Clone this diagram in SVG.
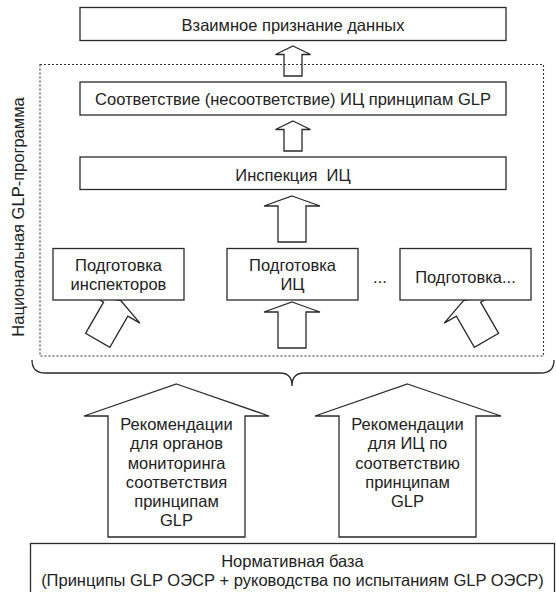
<svg xmlns="http://www.w3.org/2000/svg" width="556" height="592" viewBox="0 0 556 592">
<style>
.box{fill:#fff;stroke:#2a2a2a;stroke-width:1.3}
.arr{fill:#fff;stroke:#2a2a2a;stroke-width:1.3;stroke-linejoin:miter}
.t{font-family:"Liberation Sans",Arial,sans-serif;font-size:16.5px;fill:#222;text-anchor:middle}
.dot{fill:none;stroke:#333;stroke-width:1.1;stroke-dasharray:2 2}
.brace{fill:none;stroke:#2a2a2a;stroke-width:1.3}
</style>
<defs>
<path id="sa" d="M0,0 L17.5,8.5 L9,8.5 L9,30 L-9,30 L-9,8.5 L-17.5,8.5 Z"/>
<path id="ma" d="M0,0 L28,10 L14,10 L14,46 L-14,46 L-14,10 L-28,10 Z"/>
</defs>
<rect width="556" height="592" fill="#fff"/>

<g id="connectors">
<use href="#sa" class="arr" transform="translate(293,46)"/>
<use href="#sa" class="arr" transform="translate(293,121)"/>
<use href="#ma" class="arr" transform="translate(292,196)"/>
<use href="#ma" class="arr" transform="translate(292,302)"/>
<use href="#ma" class="arr" transform="translate(120.7,300.5) rotate(30)"/>
<use href="#ma" class="arr" transform="translate(463.5,300.5) rotate(-30)"/>
<path class="brace" d="M32,360 C32,368 36,373 45,373 L280,373 C288,373 292,378 292,386 C292,378 296,373 304,373 L541,373 C550,373 554,368 554,360"/>
</g>

<g id="program-frame">
<rect class="dot" x="40" y="64.5" width="503.5" height="291.5"/>
<text class="t" transform="translate(24,217) rotate(-90)">Национальная GLP-программа</text>
</g>

<g id="node-mutual">
<rect class="box" x="80" y="7.5" width="426" height="33"/>
<text class="t" x="293" y="30.5">Взаимное признание данных</text>
</g>

<g id="node-compliance">
<rect class="box" x="80" y="82" width="426" height="33"/>
<text class="t" x="293" y="104.5">Соответствие (несоответствие) ИЦ принципам GLP</text>
</g>

<g id="node-inspection">
<rect class="box" x="80" y="157" width="426" height="32.5"/>
<text class="t" x="293" y="181" xml:space="preserve">Инспекция  ИЦ</text>
</g>

<g id="node-train-inspectors">
<rect class="box" x="53" y="248.5" width="131" height="51.5"/>
<text class="t" x="118.5" y="270.5">Подготовка</text>
<text class="t" x="118.5" y="290">инспекторов</text>
</g>

<g id="node-train-tf">
<rect class="box" x="227" y="248.5" width="131" height="51.5"/>
<text class="t" x="292.5" y="270.5">Подготовка</text>
<text class="t" x="292.5" y="290">ИЦ</text>
</g>

<text class="t" x="380" y="283">...</text>

<g id="node-train-other">
<rect class="box" x="400" y="248.5" width="131" height="51.5"/>
<text class="t" x="465.5" y="283">Подготовка...</text>
</g>

<g id="node-rec-monitoring">
<path class="arr" d="M176.5,384 L269,416 L245,416 L245,537 L108,537 L108,416 L84,416 Z"/>
<text class="t" x="176.5" y="430">Рекомендации</text>
<text class="t" x="176.5" y="449">для органов</text>
<text class="t" x="176.5" y="468.5">мониторинга</text>
<text class="t" x="176.5" y="487.5">соответствия</text>
<text class="t" x="176.5" y="506.5">принципам</text>
<text class="t" x="176.5" y="525.5">GLP</text>
</g>

<g id="node-rec-tf">
<path class="arr" d="M407.5,384 L501,416 L476,416 L476,537 L339,537 L339,416 L315,416 Z"/>
<text class="t" x="407.5" y="430">Рекомендации</text>
<text class="t" x="407.5" y="449">для ИЦ по</text>
<text class="t" x="407.5" y="468.5">соответствию</text>
<text class="t" x="407.5" y="487.5">принципам</text>
<text class="t" x="407.5" y="506.5">GLP</text>
</g>

<g id="node-regulatory">
<rect class="box" x="30.5" y="543.5" width="524" height="60"/>
<text class="t" x="292.5" y="566.5">Нормативная база</text>
<text class="t" x="292.5" y="586">(Принципы GLP ОЭСР + руководства по испытаниям GLP ОЭСР)</text>
</g>
</svg>
